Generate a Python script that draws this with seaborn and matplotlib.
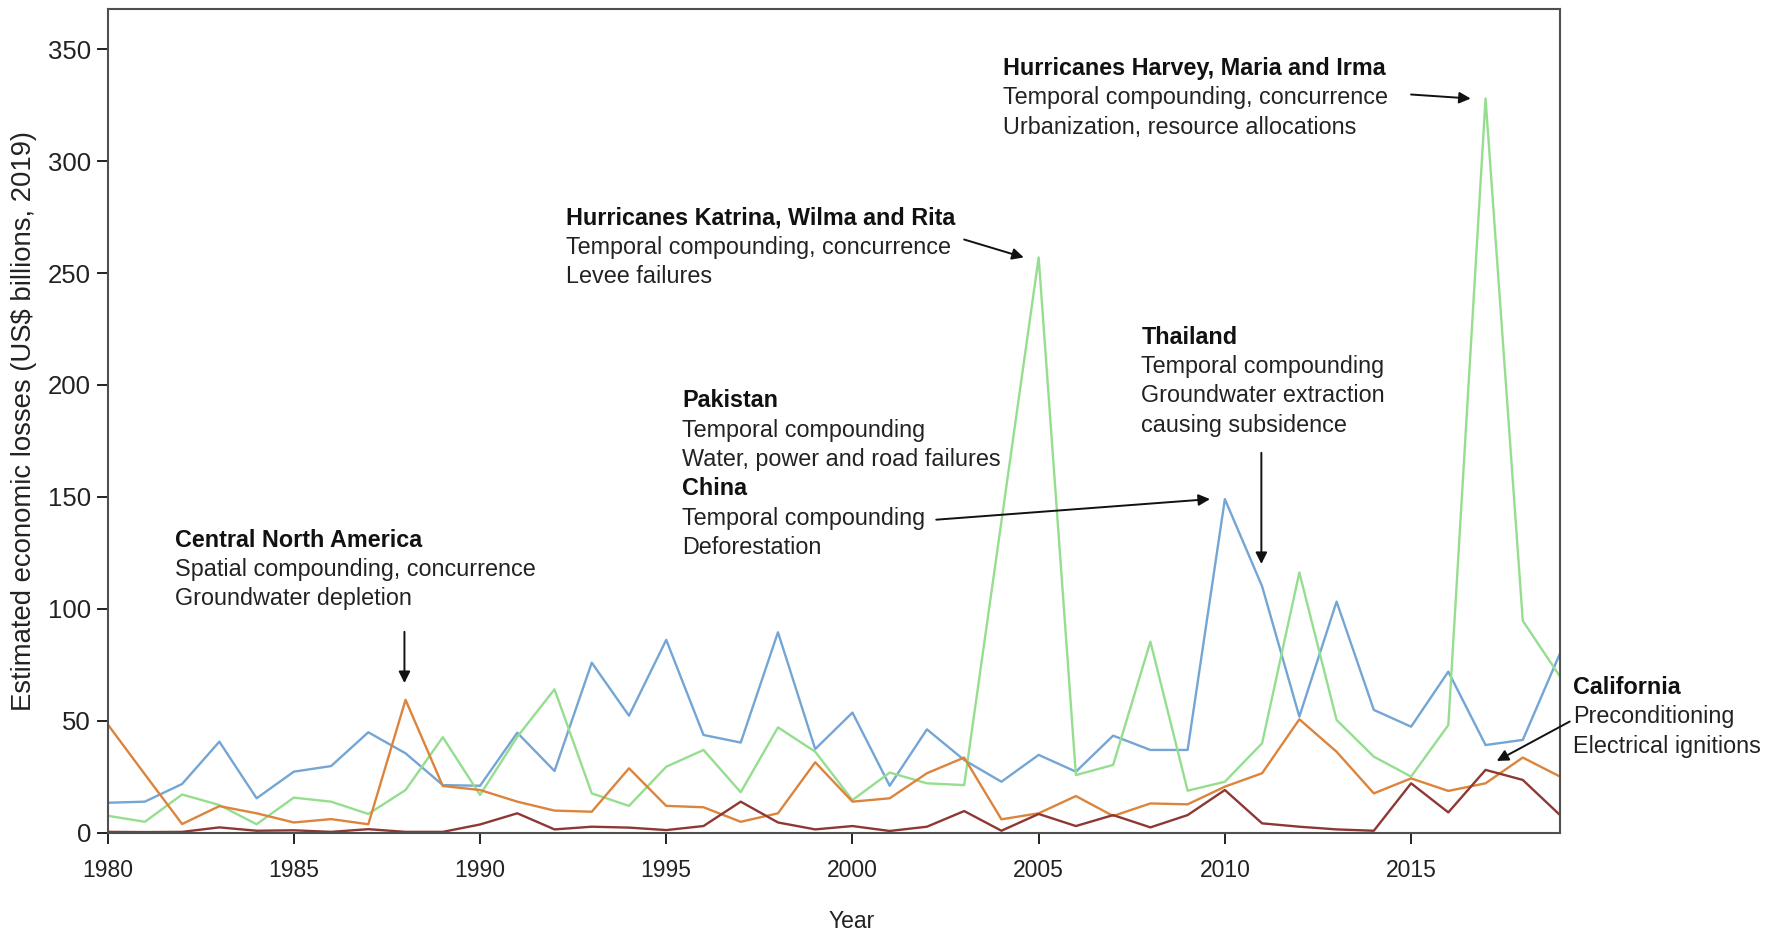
import matplotlib
matplotlib.use("Agg")
import matplotlib.pyplot as plt
import pandas as pd
import seaborn as sns

# Annual estimated economic losses (US$ billions, 2019), 1980-2019
years = list(range(1980, 2020))

loss_blue = [13.3, 13.8, 21.7, 40.6, 15.3, 27.2, 29.7, 44.8, 35.4, 21.2,
             20.9, 44.6, 27.5, 75.9, 52.2, 86.1, 43.6, 40.2, 89.5, 37.3,
             53.6, 20.9, 46.1, 32.4, 22.7, 34.7, 27.2, 43.3, 36.9, 36.9,
             149.0, 110.0, 51.8, 103.2, 54.8, 47.3, 71.9, 39.1, 41.4, 80.1]

loss_green = [7.5, 4.8, 17.0, 12.3, 3.7, 15.6, 13.8, 8.3, 19.0, 42.6,
              16.8, 42.8, 64.0, 17.5, 11.9, 29.4, 36.9, 18.0, 47.0, 36.1,
              14.5, 26.8, 22.0, 21.2, 139.0, 257.0, 25.7, 30.2, 85.3, 18.7,
              22.7, 39.9, 116.2, 50.3, 33.9, 25.0, 48.0, 328.0, 94.6, 69.7]

loss_orange = [48.4, 26.0, 3.8, 11.8, 8.6, 4.5, 6.0, 3.7, 59.3, 20.8,
               19.0, 13.8, 9.8, 9.3, 28.7, 11.9, 11.3, 4.8, 8.6, 31.4,
               13.8, 15.3, 26.5, 33.5, 5.9, 8.6, 16.3, 7.4, 13.0, 12.6,
               20.5, 26.5, 50.6, 36.1, 17.5, 24.2, 18.6, 22.0, 33.5, 25.0]

loss_maroon = [0.3, 0.2, 0.3, 2.3, 0.8, 1.0, 0.3, 1.5, 0.3, 0.3,
               3.6, 8.6, 1.4, 2.6, 2.2, 1.1, 2.9, 13.8, 4.5, 1.4,
               2.9, 0.7, 2.6, 9.6, 0.8, 8.3, 2.9, 7.8, 2.3, 7.8,
               19.0, 4.1, 2.6, 1.4, 0.8, 22.0, 9.0, 28.0, 23.5, 7.8]

series = {"blue": loss_blue, "green": loss_green,
          "orange": loss_orange, "maroon": loss_maroon}
palette = {"blue": "#74a5d4", "green": "#96de8f",
           "orange": "#dc843c", "maroon": "#8e3833"}

x_ticks = [1980, 1985, 1990, 1995, 2000, 2005, 2010, 2015]
y_ticks = [0, 50, 100, 150, 200, 250, 300, 350]

df = pd.DataFrame({"year": years, **series}).melt(
    id_vars="year", var_name="series", value_name="loss")

sns.set_theme(style="white")
plt.rcParams["font.family"] = ["Liberation Sans", "DejaVu Sans"]

fig = plt.figure(figsize=(17.76, 9.30), dpi=100)
ax = fig.add_axes([0.0606, 0.1048, 0.8178, 0.8855])

sns.lineplot(data=df, x="year", y="loss", hue="series", palette=palette,
             linewidth=1.7, legend=False, ax=ax)

ax.set_xlim(1980, 2019)
ax.set_ylim(0, 368)
ax.set_xticks(x_ticks)
ax.set_yticks(y_ticks)
ax.tick_params(axis="x", direction="out", length=8, width=1.4, pad=11,
               labelsize=16.5, colors="#222222", bottom=True)
ax.tick_params(axis="y", direction="out", length=8, width=1.4, pad=4,
               labelsize=18.5, colors="#222222", left=True)
for sp in ax.spines.values():
    sp.set_color("#505050")
    sp.set_linewidth(1.5)

ax.set_xlabel("Year", fontsize=16.5, color="#222222", labelpad=20)
ax.xaxis.label.set_x(0.512)
ax.set_ylabel("Estimated economic losses (US$ billions, 2019)",
              fontsize=19.8, color="#222222", labelpad=8)

vals = dict(zip(years, zip(loss_blue, loss_green, loss_orange, loss_maroon)))
LINE_GAP = 21.2  # points between annotation lines
TXT = 16.8


def note_block(x, y, lines):
    """Stack annotation lines; each entry is (text, bold)."""
    for i, (txt, bold) in enumerate(lines):
        ax.annotate(txt, xy=(x, y), xytext=(0, -i * LINE_GAP),
                    textcoords="offset points", ha="left", va="center",
                    fontsize=TXT, fontweight="bold" if bold else "normal",
                    color="#111111" if bold else "#222222",
                    annotation_clip=False)


def arrow(tail, head):
    ax.annotate("", xy=head, xytext=tail,
                arrowprops=dict(arrowstyle="-|>", color="#111111", lw=1.4,
                                mutation_scale=17, shrinkA=0, shrinkB=0),
                annotation_clip=False)


note_block(2004.04, 341.4, [("Hurricanes Harvey, Maria and Irma", True),
                            ("Temporal compounding, concurrence", False),
                            ("Urbanization, resource allocations", False)])
arrow((2015.0, 329.8), (2017 - 0.4, vals[2017][1]))

note_block(1992.3, 274.6, [("Hurricanes Katrina, Wilma and Rita", True),
                           ("Temporal compounding, concurrence", False),
                           ("Levee failures", False)])
arrow((2003.0, 265.0), (2005 - 0.4, vals[2005][1]))

note_block(2007.76, 221.4, [("Thailand", True),
                            ("Temporal compounding", False),
                            ("Groundwater extraction", False),
                            ("causing subsidence", False)])
arrow((2010.98, 169.7), (2010.98, vals[2011][0] + 10))

note_block(1995.43, 193.0, [("Pakistan", True),
                            ("Temporal compounding", False),
                            ("Water, power and road failures", False),
                            ("China", True),
                            ("Temporal compounding", False),
                            ("Deforestation", False)])
arrow((2002.25, 139.8), (2010 - 0.4, vals[2010][0]))

note_block(1981.8, 130.7, [("Central North America", True),
                           ("Spatial compounding, concurrence", False),
                           ("Groundwater depletion", False)])
arrow((1987.97, 89.7), (1987.97, vals[1988][2] + 7.5))

note_block(2019.35, 64.8, [("California", True),
                           ("Preconditioning", False),
                           ("Electrical ignitions", False)])
arrow((2019.26, 49.6), (2017.3, vals[2017][3] + 4))

fig.savefig("out.png", dpi=100)
